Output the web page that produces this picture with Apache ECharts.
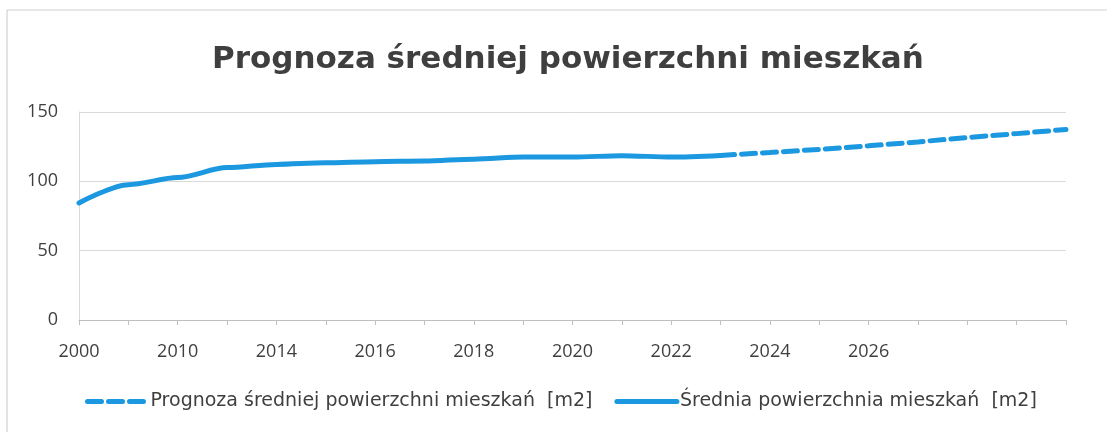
<!DOCTYPE html>
<html>
<head>
<meta charset="utf-8">
<title>Prognoza średniej powierzchni mieszkań</title>
<script src="https://cdn.jsdelivr.net/npm/echarts@6/dist/echarts.min.js"></script>
<style>
  html, body { margin: 0; padding: 0; background: #fff; }
  #chart { width: 1107px; height: 432px; }
</style>
</head>
<body>
<div id="chart"></div>
<script>
  // lata na osi (co druga kreska ma podpis)
  var years = ['2000', '2005', '2010', '2012', '2014', '2015', '2016', '2017', '2018', '2019', '2020',
               '2021', '2022', '2023', '2024', '2025', '2026', '2027', '2028', '2029', '2030'];
  var tickLabels = ['2000', '2010', '2014', '2016', '2018', '2020', '2022', '2024', '2026'];

  // dane rzeczywiste [m2]
  var srednia = [84.4, 97.6, 102.7, 109.9, 112.2, 113.4, 114.2, 114.6, 116, 117.5, 117.5,
                 118.5, 117.5, 118.7, null, null, null, null, null, null, null];
  // prognoza [m2]
  var prognoza = [null, null, null, null, null, null, null, null, null, null, null,
                  null, null, 118.7, 120.8, 123, 125.6, 128.4, 131.6, 134.4, 137.4];

  var blue = '#1b98e0';
  var txt = '#3f3f3f';
  var font = 'Open Sans';
  var wide = 'DejaVu Sans';

  var chart = echarts.init(document.getElementById('chart'));
  chart.setOption({
    animation: false,
    textStyle: { fontFamily: font },
    title: {
      text: 'Prognoza średniej powierzchni mieszkań',
      left: 207,
      top: 39,
      textStyle: { fontFamily: wide, fontSize: 31, fontWeight: 'bold', color: txt }
    },
    graphic: [
      { type: 'line', shape: { x1: 7, y1: 10, x2: 1107, y2: 10 }, style: { stroke: '#d0d0d0', lineWidth: 1 } },
      { type: 'line', shape: { x1: 7, y1: 10, x2: 7, y2: 432 }, style: { stroke: '#c8c8c8', lineWidth: 1 } }
    ],
    grid: { left: 79, right: 41, top: 112, bottom: 112 },
    legend: {
      bottom: 16,
      left: 80,
      itemWidth: 60,
      itemHeight: 8,
      itemGap: 22,
      itemStyle: { opacity: 0 },
      lineStyle: { width: 5 },
      textStyle: { fontFamily: wide, fontSize: 19, color: txt, padding: [0, 0, 0, -2] },
      data: ['Prognoza średniej powierzchni mieszkań  [m2]', 'Średnia powierzchnia mieszkań  [m2]']
    },
    xAxis: {
      type: 'category',
      boundaryGap: false,
      data: years,
      axisLine: { lineStyle: { color: '#bfbfbf', width: 1 } },
      axisTick: { show: true, interval: 0, length: 5, lineStyle: { color: '#bfbfbf' } },
      axisLabel: {
        interval: 0,
        margin: 23,
        fontFamily: font,
        fontSize: 18,
        color: txt,
        formatter: function (v) { return tickLabels.indexOf(v) >= 0 ? v : ''; }
      },
      splitLine: { show: false }
    },
    yAxis: {
      type: 'value',
      min: 0,
      max: 150,
      interval: 50,
      axisLine: { show: true, lineStyle: { color: '#d9d9d9' } },
      axisTick: { show: false },
      axisLabel: { fontFamily: font, fontSize: 18, color: txt, margin: 21 },
      splitLine: { lineStyle: { color: '#d9d9d9' } }
    },
    series: [
      {
        name: 'Prognoza średniej powierzchni mieszkań  [m2]',
        type: 'line',
        data: prognoza,
        symbol: 'none',
        color: blue,
        lineStyle: { color: blue, width: 5, type: [14, 7], cap: 'round' }
      },
      {
        name: 'Średnia powierzchnia mieszkań  [m2]',
        type: 'line',
        data: srednia,
        symbol: 'none',
        smooth: 0.3,
        smoothMonotone: 'x',
        color: blue,
        lineStyle: { color: blue, width: 5, cap: 'round' }
      }
    ]
  });
</script>
</body>
</html>
